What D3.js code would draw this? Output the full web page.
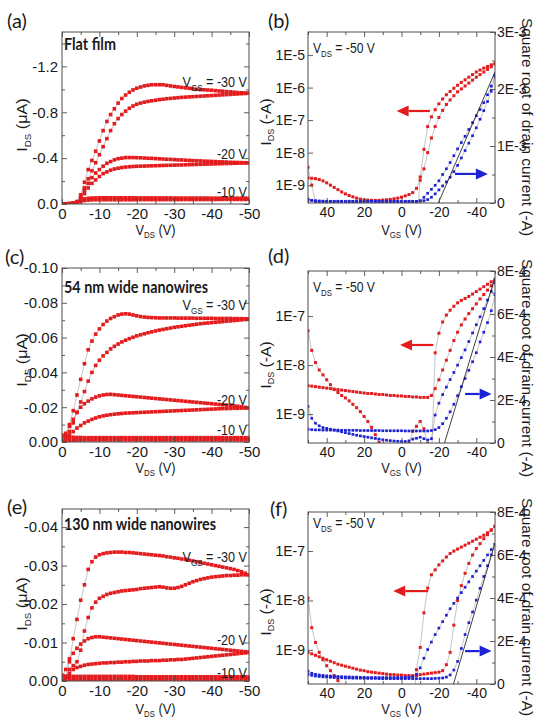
<!DOCTYPE html>
<html><head><meta charset="utf-8">
<script src="https://cdn.jsdelivr.net/npm/d3@7"></script>
<style>html,body{margin:0;padding:0;background:#fff}svg{display:block}text{white-space:pre}</style>
</head><body>
<svg id="chart" width="535" height="718"></svg>
<script>
// ---------------- DATA ----------------
// drain-voltage sweep (V) for the output curves
const vdsSweep = [0,-1,-2,-3,-4,-5,-6,-7,-8,-9,-10,-11,-12,-13,-14,-15,-16,-17,-18,-19,-20,-21,-22,-23,-24,-25,-26,-27,-28,-29,-30,-31,-32,-33,-34,-35,-36,-37,-38,-39,-40,-41,-42,-43,-44,-45,-46,-47,-48,-49,-50];
// gate-voltage sweep (V) for the transfer curves
const vgsSweep = [50,48,46,44,42,40,38,36,34,32,30,28,26,24,22,20,18,16,14,12,10,8,6,4,2,0,-2,-4,-6,-8,-10,-12,-14,-16,-18,-20,-22,-24,-26,-28,-30,-32,-34,-36,-38,-40,-42,-44,-46,-48,-50];

// (a) flat film, I_DS in uA
const aVgs30Rev = [0,0,-0.003,-0.008,-0.02,-0.08,-0.19,-0.3,-0.38,-0.46,-0.55,-0.64,-0.72,-0.78,-0.83,-0.88,-0.92,-0.95,-0.975,-0.995,-1.01,-1.02,-1.03,-1.035,-1.04,-1.04,-1.04,-1.04,-1.035,-1.03,-1.025,-1.021,-1.017,-1.013,-1.009,-1.005,-1.0,-0.998,-0.996,-0.994,-0.992,-0.989,-0.986,-0.983,-0.98,-0.978,-0.975,-0.972,-0.97,-0.968,-0.966];
const aVgs30Fwd = [0,0,-0.003,-0.008,-0.02,-0.06,-0.14,-0.22,-0.29,-0.36,-0.43,-0.5,-0.57,-0.64,-0.7,-0.745,-0.78,-0.81,-0.835,-0.855,-0.87,-0.88,-0.888,-0.895,-0.9,-0.905,-0.91,-0.914,-0.918,-0.921,-0.924,-0.927,-0.93,-0.932,-0.934,-0.936,-0.938,-0.94,-0.942,-0.944,-0.946,-0.948,-0.95,-0.952,-0.954,-0.956,-0.958,-0.96,-0.962,-0.964,-0.966];
const aVgs20Rev = [0,0,-0.003,-0.008,-0.02,-0.06,-0.12,-0.18,-0.23,-0.27,-0.3,-0.33,-0.355,-0.37,-0.385,-0.395,-0.4,-0.405,-0.405,-0.405,-0.404,-0.403,-0.401,-0.399,-0.398,-0.396,-0.394,-0.392,-0.39,-0.389,-0.387,-0.385,-0.384,-0.382,-0.38,-0.379,-0.377,-0.376,-0.374,-0.373,-0.371,-0.37,-0.368,-0.367,-0.366,-0.364,-0.363,-0.362,-0.361,-0.36,-0.359];
const aVgs20Fwd = [0,0,-0.003,-0.008,-0.02,-0.05,-0.09,-0.14,-0.18,-0.21,-0.24,-0.265,-0.28,-0.295,-0.305,-0.312,-0.318,-0.322,-0.325,-0.327,-0.329,-0.33,-0.331,-0.332,-0.333,-0.334,-0.335,-0.336,-0.337,-0.338,-0.339,-0.34,-0.341,-0.342,-0.343,-0.344,-0.345,-0.346,-0.347,-0.348,-0.349,-0.35,-0.351,-0.352,-0.353,-0.354,-0.355,-0.356,-0.357,-0.358,-0.359];
const aVgs10Rev = [0,0,-0.002,-0.005,-0.012,-0.03,-0.045,-0.05,-0.052,-0.053,-0.054,-0.054,-0.054,-0.054,-0.054,-0.054,-0.054,-0.054,-0.054,-0.054,-0.053,-0.053,-0.053,-0.053,-0.053,-0.053,-0.053,-0.053,-0.053,-0.053,-0.052,-0.052,-0.052,-0.052,-0.052,-0.052,-0.052,-0.052,-0.052,-0.052,-0.051,-0.051,-0.051,-0.051,-0.051,-0.051,-0.051,-0.051,-0.051,-0.051,-0.05];
const aVgs10Fwd = [0,0,-0.001,-0.003,-0.008,-0.02,-0.03,-0.034,-0.036,-0.037,-0.037,-0.037,-0.037,-0.037,-0.037,-0.037,-0.037,-0.037,-0.037,-0.037,-0.038,-0.038,-0.038,-0.038,-0.038,-0.038,-0.038,-0.038,-0.038,-0.038,-0.038,-0.038,-0.039,-0.039,-0.039,-0.039,-0.039,-0.039,-0.039,-0.039,-0.039,-0.039,-0.04,-0.04,-0.04,-0.04,-0.04,-0.04,-0.04,-0.04,-0.04];

// (c) 54 nm nanowires, I_DS in uA
const cVgs30Rev = [-0.001,-0.004,-0.01,-0.018,-0.027,-0.036,-0.045,-0.053,-0.058,-0.062,-0.065,-0.0675,-0.0695,-0.071,-0.072,-0.073,-0.0735,-0.0737,-0.0735,-0.073,-0.0725,-0.0721,-0.0718,-0.0716,-0.0715,-0.0714,-0.0713,-0.0713,-0.0713,-0.0713,-0.0713,-0.0712,-0.0712,-0.0712,-0.0712,-0.0712,-0.0711,-0.0711,-0.0711,-0.0711,-0.0711,-0.071,-0.071,-0.071,-0.071,-0.071,-0.0709,-0.0709,-0.0709,-0.0708,-0.0708];
const cVgs30Fwd = [0,-0.002,-0.006,-0.011,-0.017,-0.023,-0.029,-0.035,-0.04,-0.044,-0.047,-0.0495,-0.0515,-0.0535,-0.055,-0.0563,-0.0575,-0.0585,-0.0594,-0.0602,-0.061,-0.0616,-0.0622,-0.0628,-0.0633,-0.0638,-0.0643,-0.0647,-0.0651,-0.0655,-0.0659,-0.0662,-0.0665,-0.0668,-0.0671,-0.0674,-0.0677,-0.068,-0.0682,-0.0684,-0.0686,-0.0688,-0.069,-0.0692,-0.0694,-0.0696,-0.0698,-0.07,-0.0702,-0.0704,-0.0706];
const cVgs20Rev = [-0.003,-0.005,-0.009,-0.013,-0.017,-0.02,-0.022,-0.0235,-0.0248,-0.0258,-0.0265,-0.027,-0.0273,-0.0274,-0.0272,-0.027,-0.0268,-0.0266,-0.0264,-0.0262,-0.026,-0.0258,-0.0256,-0.0254,-0.0252,-0.025,-0.0248,-0.0246,-0.0244,-0.0242,-0.024,-0.0238,-0.0236,-0.0234,-0.0232,-0.023,-0.0228,-0.0226,-0.0224,-0.0222,-0.022,-0.0218,-0.0216,-0.0214,-0.0212,-0.021,-0.0208,-0.0205,-0.0202,-0.0199,-0.0196];
const cVgs20Fwd = [0,-0.002,-0.004,-0.006,-0.008,-0.0095,-0.011,-0.012,-0.013,-0.0138,-0.0145,-0.015,-0.0154,-0.0157,-0.016,-0.0162,-0.0164,-0.0166,-0.0167,-0.0168,-0.0169,-0.017,-0.0171,-0.0172,-0.0173,-0.0174,-0.0175,-0.0176,-0.0177,-0.0178,-0.0179,-0.018,-0.0181,-0.0182,-0.0183,-0.0184,-0.0185,-0.0186,-0.0187,-0.0188,-0.0189,-0.019,-0.0191,-0.0192,-0.0192,-0.0193,-0.0194,-0.0194,-0.0195,-0.0195,-0.0196];
const cVgs10Rev = [-0.004,-0.003,-0.0028,-0.0027,-0.0026,-0.0026,-0.0025,-0.0025,-0.0025,-0.0025,-0.0025,-0.0025,-0.0025,-0.0025,-0.0025,-0.0025,-0.0025,-0.0025,-0.0025,-0.0025,-0.0025,-0.0025,-0.0025,-0.0025,-0.0025,-0.0025,-0.0025,-0.0025,-0.0025,-0.0025,-0.0025,-0.0025,-0.0025,-0.0025,-0.0025,-0.0025,-0.0025,-0.0025,-0.0025,-0.0025,-0.0025,-0.0025,-0.0025,-0.0025,-0.0025,-0.0025,-0.0025,-0.0025,-0.0025,-0.0025,-0.0025];
const cVgs10Fwd = [0,-0.0006,-0.0009,-0.001,-0.0011,-0.0012,-0.0012,-0.0012,-0.0012,-0.0012,-0.0012,-0.0012,-0.0012,-0.0012,-0.0012,-0.0012,-0.0012,-0.0012,-0.0012,-0.0012,-0.0012,-0.0012,-0.0012,-0.0012,-0.0012,-0.0012,-0.0012,-0.0012,-0.0012,-0.0012,-0.0012,-0.0012,-0.0012,-0.0012,-0.0012,-0.0012,-0.0012,-0.0012,-0.0012,-0.0012,-0.0012,-0.0012,-0.0012,-0.0012,-0.0012,-0.0012,-0.0012,-0.0012,-0.0012,-0.0012,-0.0012];

// (e) 130 nm nanowires, I_DS in uA
const eVgs30Rev = [0,-0.001,-0.005,-0.011,-0.016,-0.021,-0.025,-0.029,-0.031,-0.0322,-0.0328,-0.0331,-0.0333,-0.0334,-0.0335,-0.0335,-0.0335,-0.0334,-0.0334,-0.0333,-0.0332,-0.0331,-0.033,-0.0329,-0.0328,-0.0327,-0.0326,-0.0325,-0.0323,-0.0322,-0.032,-0.0319,-0.0317,-0.0316,-0.0314,-0.0312,-0.031,-0.0308,-0.0306,-0.0304,-0.0302,-0.03,-0.0298,-0.0296,-0.0294,-0.0292,-0.029,-0.0287,-0.0284,-0.028,-0.0276];
const eVgs30Fwd = [0,-0.001,-0.002,-0.003,-0.005,-0.008,-0.013,-0.0165,-0.019,-0.0205,-0.0215,-0.022,-0.0225,-0.0228,-0.023,-0.0232,-0.0234,-0.0235,-0.0236,-0.0237,-0.0238,-0.024,-0.0241,-0.0242,-0.0243,-0.0244,-0.0245,-0.0244,-0.0242,-0.0241,-0.0241,-0.0243,-0.0246,-0.025,-0.0254,-0.0258,-0.0261,-0.0264,-0.0266,-0.0268,-0.027,-0.0271,-0.0272,-0.0273,-0.0274,-0.0274,-0.0275,-0.0275,-0.0276,-0.0276,-0.0276];
const eVgs20Rev = [-0.001,-0.003,-0.0058,-0.0072,-0.0085,-0.0096,-0.0104,-0.011,-0.0113,-0.0115,-0.0115,-0.0114,-0.0113,-0.0112,-0.0111,-0.011,-0.0109,-0.0108,-0.0107,-0.0106,-0.0105,-0.0104,-0.0103,-0.0102,-0.0101,-0.01,-0.0099,-0.0098,-0.0097,-0.0096,-0.0095,-0.0094,-0.0093,-0.0092,-0.0091,-0.009,-0.0089,-0.0088,-0.0087,-0.0086,-0.0085,-0.0084,-0.0083,-0.0082,-0.0081,-0.008,-0.0079,-0.0078,-0.0077,-0.0076,-0.0075];
const eVgs20Fwd = [0,-0.001,-0.003,-0.004,-0.0035,-0.0038,-0.0041,-0.0043,-0.0044,-0.0045,-0.0046,-0.0047,-0.0047,-0.0048,-0.0048,-0.0049,-0.0049,-0.005,-0.005,-0.0051,-0.0051,-0.0052,-0.0052,-0.0052,-0.0053,-0.0053,-0.0053,-0.0054,-0.0054,-0.0055,-0.0055,-0.0056,-0.0056,-0.0057,-0.0058,-0.0059,-0.006,-0.0061,-0.0062,-0.0063,-0.0064,-0.0065,-0.0066,-0.0067,-0.0068,-0.0069,-0.007,-0.0071,-0.0072,-0.0073,-0.0074];
const eVgs10Rev = [-0.0015,-0.0013,-0.0012,-0.0012,-0.0012,-0.0012,-0.0012,-0.0012,-0.0012,-0.0012,-0.0012,-0.0012,-0.0012,-0.0012,-0.0012,-0.0012,-0.0012,-0.0012,-0.0012,-0.0012,-0.0011,-0.0011,-0.0011,-0.0011,-0.0011,-0.0011,-0.0011,-0.0011,-0.0011,-0.0011,-0.0011,-0.0011,-0.0011,-0.0011,-0.0011,-0.0011,-0.0011,-0.0011,-0.0011,-0.0011,-0.0011,-0.0011,-0.0011,-0.0011,-0.0011,-0.0011,-0.0011,-0.0011,-0.0011,-0.0011,-0.0011];
const eVgs10Fwd = [0,-0.0003,-0.0004,-0.0004,-0.0004,-0.0004,-0.0004,-0.0004,-0.0004,-0.0004,-0.0004,-0.0004,-0.0004,-0.0004,-0.0004,-0.0004,-0.0004,-0.0004,-0.0004,-0.0004,-0.0004,-0.0004,-0.0004,-0.0004,-0.0004,-0.0004,-0.0004,-0.0004,-0.0004,-0.0004,-0.0004,-0.0004,-0.0004,-0.0004,-0.0004,-0.0004,-0.0004,-0.0004,-0.0004,-0.0004,-0.0004,-0.0004,-0.0004,-0.0004,-0.0004,-0.0004,-0.0004,-0.0004,-0.0004,-0.0004,-0.0004];

// (b) flat film transfer: log10 |I_DS| (A) and sqrt|I_DS| (units of 1E-3)
const bLogIdsFwd = [-8.78,-8.79,-8.8,-8.83,-8.87,-8.93,-9.0,-9.07,-9.14,-9.21,-9.27,-9.32,-9.36,-9.4,-9.43,-9.45,-9.46,-9.47,-9.47,-9.47,-9.46,-9.45,-9.44,-9.42,-9.4,-9.37,-9.33,-9.29,-9.23,-9.1,-8.85,-8.5,-8.0,-7.55,-7.2,-6.92,-6.7,-6.52,-6.38,-6.25,-6.13,-6.04,-5.95,-5.86,-5.77,-5.68,-5.6,-5.52,-5.44,-5.36,-5.27];
const bLogIdsRev = [-8.45,-9.0,-9.5,-10.2,-10.5,-10.5,-10.5,-10.5,-10.5,-10.5,-10.5,-10.5,-10.5,-10.5,-10.5,-10.5,-10.5,-10.5,-10.5,-10.5,-10.5,-10.5,-10.5,-10.5,-10.5,-10.5,-10.5,-10.5,-10.5,-10.5,-8.75,-7.9,-7.2,-6.9,-6.68,-6.5,-6.35,-6.22,-6.12,-6.02,-5.93,-5.84,-5.76,-5.68,-5.6,-5.52,-5.46,-5.4,-5.35,-5.3,-5.26];
const bSqrtFwd = [0.05,0.045,0.04,0.036,0.033,0.03,0.03,0.03,0.03,0.03,0.03,0.03,0.03,0.03,0.03,0.03,0.03,0.03,0.03,0.03,0.03,0.03,0.03,0.03,0.03,0.03,0.03,0.03,0.03,0.03,0.035,0.04,0.06,0.1,0.16,0.23,0.3,0.37,0.45,0.55,0.66,0.79,0.92,1.05,1.18,1.32,1.47,1.62,1.78,1.96,2.22];
const bSqrtRev = [0.07,0.045,0.03,0.025,0.025,0.025,0.025,0.025,0.025,0.025,0.025,0.025,0.025,0.025,0.025,0.025,0.025,0.025,0.025,0.025,0.025,0.025,0.025,0.025,0.025,0.025,0.025,0.025,0.025,0.025,0.04,0.1,0.17,0.24,0.31,0.39,0.5,0.6,0.71,0.83,0.95,1.06,1.17,1.29,1.41,1.53,1.64,1.76,1.9,2.05,2.24];
const bFitVgs = [-19.7,-50];
const bFitSqrt = [0,2.3];

// (d) 54 nm transfer: log10 |I_DS| (A) and sqrt|I_DS| (units of 1E-4)
const dLogIdsFwd = [-8.42,-8.43,-8.44,-8.45,-8.46,-8.47,-8.48,-8.49,-8.5,-8.51,-8.52,-8.53,-8.54,-8.55,-8.56,-8.57,-8.58,-8.58,-8.59,-8.6,-8.6,-8.61,-8.62,-8.62,-8.63,-8.63,-8.64,-8.64,-8.65,-8.65,-8.66,-8.66,-8.66,-8.62,-8.48,-8.3,-8.1,-7.9,-7.7,-7.5,-7.33,-7.18,-7.06,-6.95,-6.85,-6.75,-6.65,-6.56,-6.47,-6.38,-6.27];
const dLogIdsRev = [-7.3,-7.7,-7.95,-8.1,-8.2,-8.3,-8.4,-8.5,-8.56,-8.62,-8.67,-8.73,-8.8,-8.87,-8.95,-9.05,-9.15,-9.27,-9.42,-9.58,-9.8,-10.0,-10.1,-10.2,-10.3,-10.3,-10.0,-9.6,-9.35,-9.25,-9.15,-9.3,-9.6,-10.0,-7.75,-7.35,-7.12,-6.98,-6.88,-6.8,-6.73,-6.68,-6.64,-6.6,-6.55,-6.5,-6.45,-6.4,-6.35,-6.3,-6.25];
const dSqrtFwd = [0.64,0.62,0.61,0.61,0.6,0.6,0.6,0.6,0.6,0.59,0.59,0.59,0.59,0.59,0.58,0.58,0.58,0.58,0.58,0.58,0.57,0.57,0.57,0.57,0.57,0.57,0.56,0.56,0.56,0.56,0.56,0.56,0.56,0.58,0.62,0.72,0.9,1.15,1.45,1.8,2.2,2.62,3.0,3.38,3.78,4.2,4.7,5.15,5.6,6.15,6.9];
const dSqrtRev = [1.7,1.15,0.92,0.8,0.72,0.68,0.64,0.6,0.56,0.52,0.48,0.44,0.4,0.36,0.33,0.3,0.27,0.24,0.21,0.18,0.15,0.13,0.11,0.09,0.08,0.07,0.07,0.1,0.18,0.22,0.27,0.2,0.14,0.2,1.3,1.85,2.25,2.6,2.95,3.28,3.62,3.97,4.33,4.72,5.12,5.5,5.87,6.25,6.65,7.05,7.45];
const dFitVgs = [-23,-50];
const dFitSqrt = [0,7.7];

// (f) 130 nm transfer: log10 |I_DS| (A) and sqrt|I_DS| (units of 1E-4)
const fLogIdsFwd = [-9.05,-9.08,-9.11,-9.14,-9.17,-9.2,-9.23,-9.26,-9.29,-9.31,-9.33,-9.35,-9.37,-9.39,-9.41,-9.42,-9.44,-9.45,-9.46,-9.47,-9.48,-9.49,-9.5,-9.5,-9.51,-9.51,-9.52,-9.52,-9.52,-9.52,-9.5,-9.49,-9.48,-9.47,-9.46,-9.45,-9.42,-9.3,-9.05,-8.5,-8.0,-7.7,-7.45,-7.25,-7.08,-6.95,-6.85,-6.75,-6.67,-6.58,-6.5];
const fLogIdsRev = [-7.95,-8.55,-8.85,-9.05,-9.2,-9.32,-9.42,-9.52,-9.62,-9.75,-9.9,-10.3,-10.3,-10.3,-10.3,-10.3,-10.3,-10.3,-10.3,-10.3,-10.3,-10.3,-10.3,-10.3,-10.3,-10.3,-10.3,-10.3,-10.3,-9.4,-8.95,-8.25,-7.75,-7.48,-7.38,-7.28,-7.2,-7.12,-7.05,-7.0,-6.96,-6.92,-6.88,-6.84,-6.8,-6.76,-6.72,-6.68,-6.63,-6.57,-6.5];
const fSqrtFwd = [0.45,0.4,0.37,0.35,0.33,0.32,0.31,0.3,0.29,0.29,0.28,0.28,0.27,0.27,0.27,0.26,0.26,0.26,0.26,0.25,0.25,0.25,0.25,0.25,0.25,0.25,0.25,0.25,0.25,0.25,0.25,0.25,0.25,0.25,0.26,0.27,0.28,0.32,0.42,0.65,1.05,1.65,2.3,2.85,3.35,3.9,4.45,5.0,5.5,6.0,6.5];
const fSqrtRev = [0.6,0.5,0.45,0.42,0.4,0.38,0.37,0.36,0.35,0.34,0.33,0.33,0.32,0.32,0.31,0.31,0.3,0.3,0.3,0.3,0.3,0.3,0.3,0.3,0.3,0.3,0.31,0.32,0.34,0.45,0.75,1.2,1.6,1.95,2.3,2.6,2.9,3.2,3.5,3.75,4.0,4.25,4.5,4.75,5.0,5.25,5.5,5.75,6.0,6.25,6.5];
const fFitVgs = [-27.8,-50];
const fFitSqrt = [0,6.55];

// tick values
const vdsTicks = [0,-10,-20,-30,-40,-50];
const vdsMinor = [-5,-15,-25,-35,-45];
const vgsTicks = [40,20,0,-20,-40];
const vgsMinor = [50,30,10,-10,-30,-50];
const aTicks = [0,-0.4,-0.8,-1.2], aMinor = [-0.2,-0.6,-1.0,-1.4];
const cTicks = [0,-0.02,-0.04,-0.06,-0.08,-0.1], cMinor = [-0.01,-0.03,-0.05,-0.07,-0.09];
const eTicks = [0,-0.01,-0.02,-0.03,-0.04], eMinor = [-0.005,-0.015,-0.025,-0.035];
const bLogTicks = [1e-5,1e-6,1e-7,1e-8,1e-9];
const dfLogTicks = [1e-7,1e-8,1e-9];
const bSqrtTicks = [0,1,2,3], bSqrtMinor = [0.5,1.5,2.5];
const dfSqrtTicks = [0,2,4,6,8], dfSqrtMinor = [1,3,5,7];

// ---------------- DRAWING ----------------
const svg = d3.select('#chart');
const defs = svg.append('defs');
const RED = '#e41b1d', BLUE = '#1e22d6', FRAME = '#4d4d4d', TXT = '#1a1a1a', GRAY = '#9c9c9c';
const NUMFONT = '"Liberation Sans", Arial, sans-serif';
const TITLEFONT = 'Lato, "Open Sans", sans-serif';

function richText(g, x, y, parts, o) {
  o = o || {};
  const size = o.size || 14, sub = o.sub || 9, shift = o.shift || 4;
  const t = g.append('text')
    .attr('transform', `translate(${x},${y}) rotate(${o.rotate || 0}) scale(${o.sx || 1},1)`)
    .attr('text-anchor', o.anchor || 'start')
    .attr('font-family', o.family || NUMFONT)
    .attr('font-weight', o.weight || 'normal')
    .attr('font-size', size).attr('fill', TXT);
  if (o.length) t.attr('textLength', o.length).attr('lengthAdjust', 'spacingAndGlyphs');
  let cur = 0;
  parts.forEach(p => {
    const isSub = Array.isArray(p);
    const want = isSub ? shift : 0;
    const ts = t.append('tspan').attr('dy', want - cur).text(isSub ? p[0] : p);
    if (isSub) ts.attr('font-size', sub);
    cur = want;
  });
  return t;
}

function addAxis(g, axis, tx, ty, size) {
  const a = g.append('g').attr('transform', `translate(${tx},${ty})`).call(axis);
  a.select('.domain').remove();
  a.selectAll('.tick line').attr('stroke', FRAME).attr('stroke-width', 0.9);
  a.selectAll('.tick text').attr('fill', TXT).attr('font-size', size || 15).attr('font-family', NUMFONT);
  return a;
}

function clip(id, x0, y0, x1, y1) {
  defs.append('clipPath').attr('id', id).append('rect')
    .attr('x', x0).attr('y', y0).attr('width', x1 - x0).attr('height', y1 - y0);
  return `url(#${id})`;
}

function squares(g, pts, x, y, size, color) {
  g.append('g').selectAll('rect').data(pts).join('rect')
    .attr('x', d => x(d[0]) - size / 2).attr('y', d => y(d[1]) - size / 2)
    .attr('width', size).attr('height', size).attr('fill', color);
}

function arrow(g, xt, xh, yv, color) {
  const dir = Math.sign(xh - xt), hl = 12, hw = 5.5;
  g.append('line').attr('x1', xt).attr('y1', yv).attr('x2', xh - dir * hl).attr('y2', yv)
    .attr('stroke', color).attr('stroke-width', 2.2);
  g.append('path').attr('d', `M${xh},${yv}L${xh - dir * hl},${yv - hw}L${xh - dir * hl},${yv + hw}Z`).attr('fill', color);
}

function outputPanel(p) {
  const [x0, y0, x1, y1] = p.box;
  const g = svg.append('g');
  const x = d3.scaleLinear().domain([0, -50]).range([x0, x1]);
  const y = d3.scaleLinear().domain([0, p.ymax]).range([y1, y0]);
  const plot = g.append('g').attr('clip-path', clip('clip-' + p.id, x0, y0, x1, y1));
  const line = d3.line().x(d => x(d[0])).y(d => y(d[1]));
  const sets = p.curves.map(c => vdsSweep.map((v, i) => [v, c[i]]).filter(d => d[1] != null));
  sets.forEach(pts => plot.append('path').attr('d', line(pts)).attr('fill', 'none').attr('stroke', GRAY).attr('stroke-width', 0.6));
  sets.forEach(pts => squares(plot, pts, x, y, 3.6, RED));
  g.append('rect').attr('x', x0).attr('y', y0).attr('width', x1 - x0).attr('height', y1 - y0)
    .attr('fill', 'none').attr('stroke', FRAME).attr('stroke-width', 1);
  addAxis(g, d3.axisBottom(x).tickValues(vdsTicks).tickSize(-5).tickPadding(4).tickFormat(d => String(d)), 0, y1, 15);
  addAxis(g, d3.axisBottom(x).tickValues(vdsMinor).tickSize(-3).tickFormat(''), 0, y1);
  addAxis(g, d3.axisTop(x).tickValues(vdsTicks).tickSize(-5).tickFormat(''), 0, y0);
  addAxis(g, d3.axisTop(x).tickValues(vdsMinor).tickSize(-3).tickFormat(''), 0, y0);
  addAxis(g, d3.axisLeft(y).tickValues(p.yTicks).tickSize(-5).tickPadding(4).tickFormat(d => d.toFixed(p.dec)), x0, 0, 15);
  addAxis(g, d3.axisLeft(y).tickValues(p.yMinor).tickSize(-3).tickFormat(''), x0, 0);
  addAxis(g, d3.axisRight(y).tickValues(p.yTicks).tickSize(-5).tickFormat(''), x1, 0);
  addAxis(g, d3.axisRight(y).tickValues(p.yMinor).tickSize(-3).tickFormat(''), x1, 0);

  richText(g, p.letter[0], p.letter[1], [p.letterText], { size: 20, family: TITLEFONT });
  richText(g, x0 + 2, p.titleY, [p.title], { size: 17, family: TITLEFONT, weight: 'bold', length: p.titleLen });
  richText(g, x1 - 2, p.lab30, ['V', ['GS'], ' = -30 V'], { size: 14, anchor: 'end', sx: 0.9 });
  richText(g, x1 - 2, p.lab20, ['-20 V'], { size: 14, anchor: 'end', sx: 0.9 });
  richText(g, x1 - 2, p.lab10, ['-10 V'], { size: 14, anchor: 'end', sx: 0.9 });
  richText(g, (x0 + x1) / 2, p.xTitleY, ['V', ['DS'], ' (V)'], { size: 14, sub: 8.5, shift: 3, anchor: 'middle', sx: 0.92 });
  richText(g, 27, p.yTitleY, ['I', ['DS'], ' (\u03BCA)'], { size: 15, anchor: 'middle', rotate: -90, sx: 1.08 });
}

function transferPanel(p) {
  const [x0, y0, x1, y1] = p.box;
  const g = svg.append('g');
  const x = d3.scaleLinear().domain([50, -50]).range([x0, x1]);
  const yL = d3.scaleLog().domain([Math.pow(10, p.logBottom), Math.pow(10, p.logTop)]).range([y1, y0]);
  const yR = d3.scaleLinear().domain([0, p.rMax]).range([y1, y0]);
  const plot = g.append('g').attr('clip-path', clip('clip-' + p.id, x0, y0, x1, y1));
  const lineL = d3.line().x(d => x(d[0])).y(d => yL(d[1]));
  const lineR = d3.line().x(d => x(d[0])).y(d => yR(d[1]));
  const reds = p.logIds.map(c => vgsSweep.map((v, i) => [v, Math.pow(10, c[i])]));
  const blues = p.sqrt.map(c => vgsSweep.map((v, i) => [v, c[i]]));
  reds.forEach(pts => plot.append('path').attr('d', lineL(pts)).attr('fill', 'none').attr('stroke', GRAY).attr('stroke-width', 0.6));
  blues.forEach(pts => plot.append('path').attr('d', lineR(pts)).attr('fill', 'none').attr('stroke', GRAY).attr('stroke-width', 0.6));
  reds.forEach(pts => squares(plot, pts, x, yL, 3, RED));
  blues.forEach(pts => squares(plot, pts, x, yR, 2.7, BLUE));
  plot.append('path').attr('d', lineR(p.fit[0].map((v, i) => [v, p.fit[1][i]])))
    .attr('fill', 'none').attr('stroke', '#111').attr('stroke-width', 0.8);

  g.append('rect').attr('x', x0).attr('y', y0).attr('width', x1 - x0).attr('height', y1 - y0)
    .attr('fill', 'none').attr('stroke', FRAME).attr('stroke-width', 1);
  addAxis(g, d3.axisBottom(x).tickValues(vgsTicks).tickSize(-5).tickPadding(4).tickFormat(d => String(d)), 0, y1, 14);
  addAxis(g, d3.axisBottom(x).tickValues(vgsMinor).tickSize(-3).tickFormat(''), 0, y1);
  addAxis(g, d3.axisTop(x).tickValues(vgsTicks).tickSize(-5).tickFormat(''), 0, y0);
  addAxis(g, d3.axisTop(x).tickValues(vgsMinor).tickSize(-3).tickFormat(''), 0, y0);
  addAxis(g, d3.axisLeft(yL).tickValues(p.logTicks).tickSize(-5).tickPadding(3).tickFormat(d => '1E' + Math.round(Math.log10(d))), x0, 0, 14);
  addAxis(g, d3.axisRight(yR).tickValues(p.rTicks).tickSize(-5).tickPadding(2).tickFormat(d => d === 0 ? '0' : d + p.rUnit), x1, 0, 14);
  addAxis(g, d3.axisRight(yR).tickValues(p.rMinor).tickSize(-3).tickFormat(''), x1, 0);

  arrow(g, x(p.redArrow[0]), x(p.redArrow[1]), yL(Math.pow(10, p.redArrow[2])), RED);
  arrow(g, x(p.blueArrow[0]), x(p.blueArrow[1]), yR(p.blueArrow[2]), BLUE);

  richText(g, p.letter[0], p.letter[1], [p.letterText], { size: 20, family: TITLEFONT });
  richText(g, x0 + 5, p.vdsY, ['V', ['DS'], ' = -50 V'], { size: 14, sx: 0.87 });
  richText(g, (x0 + x1) / 2, p.xTitleY, ['V', ['GS'], ' (V)'], { size: 14, sub: 8.5, shift: 3, anchor: 'middle', sx: 0.92 });
  richText(g, 271, p.yTitleY, ['I', ['DS'], ' (-A)'], { size: 15, sub: 8.5, shift: 3, anchor: 'middle', rotate: -90, sx: 1.05 });
  richText(g, 522, p.rTitleY, ['Square root of drain current (-A)'], { size: 14, anchor: 'middle', rotate: 90, sx: 1.1 });
}

outputPanel({ id: 'a', box: [62, 32, 249, 204], ymax: -1.5, yTicks: aTicks, yMinor: aMinor, dec: 1,
  curves: [aVgs30Rev, aVgs30Fwd, aVgs20Rev, aVgs20Fwd, aVgs10Rev, aVgs10Fwd],
  letter: [7, 28], letterText: '(a)', title: 'Flat film', titleY: 50, titleLen: 52,
  lab30: 87, lab20: 159, lab10: 197, xTitleY: 235, yTitleY: 125 });
outputPanel({ id: 'c', box: [62, 268, 249, 442], ymax: -0.1, yTicks: cTicks, yMinor: cMinor, dec: 2,
  curves: [cVgs30Rev, cVgs30Fwd, cVgs20Rev, cVgs20Fwd, cVgs10Rev, cVgs10Fwd],
  letter: [5, 264], letterText: '(c)', title: '54 nm wide nanowires', titleY: 293, titleLen: 144,
  lab30: 310, lab20: 405, lab10: 435, xTitleY: 473, yTitleY: 360 });
outputPanel({ id: 'e', box: [62, 509, 249, 681], ymax: -0.0447, yTicks: eTicks, yMinor: eMinor, dec: 2,
  curves: [eVgs30Rev, eVgs30Fwd, eVgs20Rev, eVgs20Fwd, eVgs10Rev, eVgs10Fwd],
  letter: [7, 514], letterText: '(e)', title: '130 nm wide nanowires', titleY: 530, titleLen: 152,
  lab30: 562, lab20: 645, lab10: 678, xTitleY: 714, yTitleY: 604 });

transferPanel({ id: 'b', box: [308, 32, 495, 203], logBottom: -9.55, logTop: -4.29, rMax: 3, rUnit: 'E-3',
  logTicks: bLogTicks, rTicks: bSqrtTicks, rMinor: bSqrtMinor,
  logIds: [bLogIdsFwd, bLogIdsRev], sqrt: [bSqrtFwd, bSqrtRev], fit: [bFitVgs, bFitSqrt],
  redArrow: [-15.2, 2.6, -6.72], blueArrow: [-28.6, -46.2, 0.51],
  letter: [268, 28], letterText: '(b)', vdsY: 53, xTitleY: 235, yTitleY: 122, rTitleY: 127 });
transferPanel({ id: 'd', box: [308, 271, 495, 443], logBottom: -9.59, logTop: -6.08, rMax: 8, rUnit: 'E-4',
  logTicks: dfLogTicks, rTicks: dfSqrtTicks, rMinor: dfSqrtMinor,
  logIds: [dLogIdsFwd, dLogIdsRev], sqrt: [dSqrtFwd, dSqrtRev], fit: [dFitVgs, dFitSqrt],
  redArrow: [-17, 0.8, -7.59], blueArrow: [-34, -48.2, 2.28],
  letter: [268, 263], letterText: '(d)', vdsY: 292, xTitleY: 473, yTitleY: 365, rTitleY: 368 });
transferPanel({ id: 'f', box: [308, 512, 495, 684], logBottom: -9.69, logTop: -6.21, rMax: 8, rUnit: 'E-4',
  logTicks: dfLogTicks, rTicks: dfSqrtTicks, rMinor: dfSqrtMinor,
  logIds: [fLogIdsFwd, fLogIdsRev], sqrt: [fSqrtFwd, fSqrtRev], fit: [fFitVgs, fFitSqrt],
  redArrow: [-14.3, 4.4, -7.81], blueArrow: [-34, -48.2, 1.53],
  letter: [270, 516], letterText: '(f)', vdsY: 528, xTitleY: 714, yTitleY: 612, rTitleY: 607 });
</script>
</body></html>
